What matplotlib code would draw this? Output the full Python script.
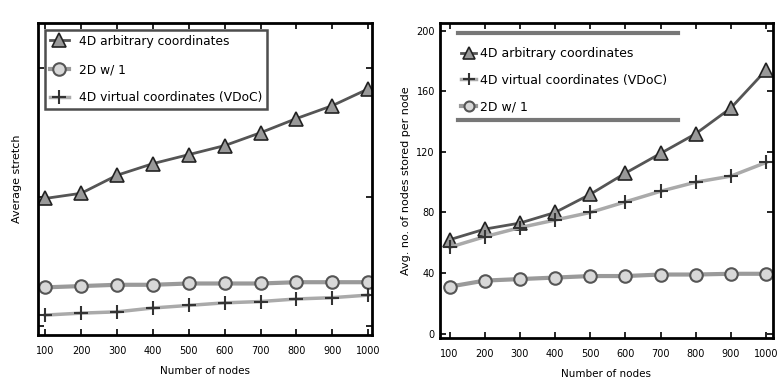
import matplotlib.pyplot as plt

nodes = [100, 200, 300, 400, 500, 600, 700, 800, 900, 1000]
xlabels = ["100", "200", "300", "400", "500", "600", "700", "800", "900", "1000"]

# left panel: average stretch
stretch_4d_arb = [1.99, 2.03, 2.17, 2.26, 2.33, 2.40, 2.50, 2.61, 2.71, 2.84]
stretch_2d = [1.30, 1.31, 1.32, 1.32, 1.33, 1.33, 1.33, 1.34, 1.34, 1.34]
stretch_4d_vdoc = [1.085, 1.10, 1.11, 1.14, 1.16, 1.18, 1.19, 1.21, 1.22, 1.24]

# right panel: avg. no. of nodes stored per node
stored_4d_arb = [62, 69, 73, 80, 92, 106, 119, 132, 149, 174]
stored_4d_vdoc = [57, 64, 70, 75, 80, 87, 94, 100, 104, 113]
stored_2d = [31, 35, 36, 37, 38, 38, 39, 39, 39.5, 39.5]

lbl_arb = "4D arbitrary coordinates"
lbl_vdoc = "4D virtual coordinates (VDoC)"
lbl_2d = "2D w/ 1"

fig = plt.figure(figsize=(7.77, 3.86), dpi=100)
ax1 = fig.add_axes([0.049, 0.132, 0.430, 0.808])
ax2 = fig.add_axes([0.566, 0.124, 0.429, 0.816])

tri = dict(color="#555555", lw=2, marker="^", ms=10, mfc="#999999", mec="#222222", mew=1.2)
circ = dict(color="#9a9a9a", lw=3, marker="o", ms=9, mfc="#d8d8d8", mec="#555555", mew=1.5)
star = dict(color="#aaaaaa", lw=2.5, marker="+", ms=10, mec="#333333", mew=1.5)

ax1.plot(nodes, stretch_4d_arb, label=lbl_arb, **tri)
ax1.plot(nodes, stretch_2d, label=lbl_2d, **circ)
ax1.plot(nodes, stretch_4d_vdoc, label=lbl_vdoc, **star)
ax1.set_xlim(80, 1011)
ax1.set_ylim(0.93, 3.35)
ax1.set_yticks([1, 2, 3])
ax1.set_yticklabels([])
ax1.set_ylabel("Average stretch", fontsize=8, labelpad=8)
leg1 = ax1.legend(loc="upper left", fontsize=8.8, frameon=True, fancybox=False,
                  borderaxespad=0.55, handlelength=1.6, labelspacing=1.25)
leg1.get_frame().set_edgecolor("#222222")
leg1.get_frame().set_linewidth(1.8)

ax2.plot(nodes, stored_4d_arb, label=lbl_arb, **tri)
ax2.plot(nodes, stored_4d_vdoc, label=lbl_vdoc, **star)
ax2.plot(nodes, stored_2d, label=lbl_2d, **circ)
ax2.set_xlim(72, 1020)
ax2.set_ylim(-3, 205)
ax2.set_yticks([0, 40, 80, 120, 160, 200])
ax2.set_ylabel("Avg. no. of nodes stored per node", fontsize=8, labelpad=4)
ax2.legend(loc="upper left", bbox_to_anchor=(0.03, 0.96), fontsize=9, frameon=False,
           handlelength=1.2, handletextpad=0.3, labelspacing=1.1, markerscale=0.8)
for yy in (0.968, 0.692):
    ax2.plot([0.055, 0.715], [yy, yy], color="#777777", lw=3, transform=ax2.transAxes)

for ax in (ax1, ax2):
    ax.set_xticks(nodes)
    ax.set_xticklabels(xlabels)
    ax.set_xlabel("Number of nodes", fontsize=7.5, labelpad=7)
    ax.tick_params(direction="in", top=True, right=True, labelsize=7, length=4, width=1.2)
    ax.tick_params(axis="x", pad=8)
    for s in ax.spines.values():
        s.set_linewidth(2)

plt.savefig("out.png", dpi=100)
